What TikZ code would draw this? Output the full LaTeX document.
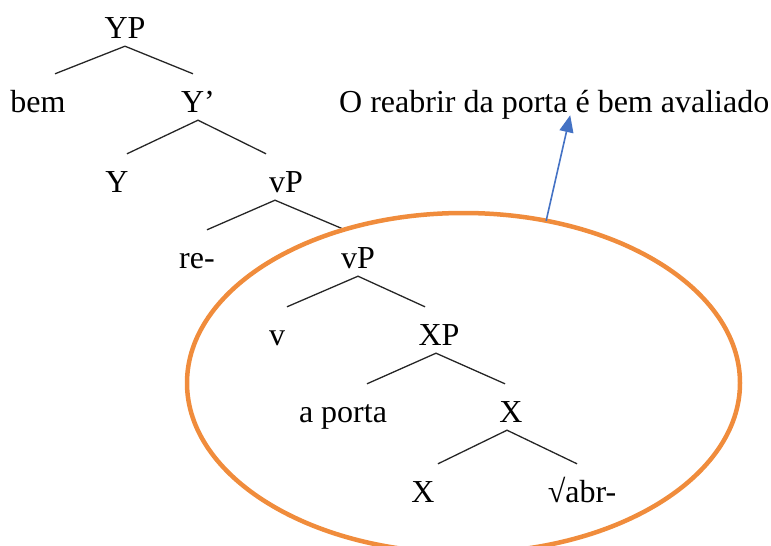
\documentclass[tikz,border=0pt]{standalone}
\usepackage{fontspec}
\setmainfont{Liberation Serif}
\usetikzlibrary{shapes.geometric, arrows.meta}
\definecolor{ringorange}{RGB}{240,140,60}
\definecolor{arrowblue}{RGB}{68,114,196}

\begin{document}
\begin{tikzpicture}[x=1pt, y=-1pt,
    lbl/.style={anchor=base, inner xsep=0pt, inner ysep=8pt, text height=30pt, text depth=0pt, font=\fontsize{32}{38}\selectfont},
    branch/.style={line width=1.3pt, black!85}]
    \useasboundingbox (0, 0) rectangle (771, 546);

    % Labels, row by row
    \node[lbl] (yp) at (125, 38) {YP};
    \node[lbl] (bem) at (38, 112) {bem};
    \node[lbl] (ybar) at (198, 112) {Y’};
    \node[lbl] (y) at (117, 192) {Y};
    \node[lbl] (vp) at (286, 192) {vP};
    \node[lbl] (re) at (197, 268) {re-};
    \node[lbl] (vplow) at (358, 268) {vP};
    \node[lbl] (v) at (277, 345) {v};
    \node[lbl] (xp) at (439, 345) {XP};
    \node[lbl] (porta) at (343, 422) {a porta};
    \node[lbl] (xbar) at (511, 422) {X};
    \node[lbl] (x) at (423, 502) {X};
    \node[lbl] (root) at (582, 502) {√abr-};

    % Branches
    \draw[branch] ([xshift=17pt]bem.north) -- (yp.south) -- ([xshift=-5pt]ybar.north);
    \draw[branch] ([xshift=10pt]y.north) -- (ybar.south) -- ([xshift=-20pt]vp.north);
    \draw[branch] ([xshift=10pt]re.north) -- ([xshift=-11pt]vp.south) -- ([xshift=-13pt]vplow.north);
    \draw[branch] ([xshift=10pt]v.north) -- (vplow.south) -- ([xshift=-14pt]xp.north);
    \draw[branch] ([xshift=24pt]porta.north) -- ([xshift=-3pt]xp.south) -- ([xshift=-6pt]xbar.north);
    \draw[branch] ([xshift=15pt]x.north) -- ([xshift=-4pt]xbar.south) -- ([xshift=-5pt]root.north);

    % Ring and its reading
    \node[draw=ringorange, line width=4.5pt, ellipse, minimum width=553pt, minimum height=340pt,
        inner sep=0pt, outer sep=0pt] (ring) at (463.5, 383) {};
    \node[anchor=base west, inner sep=0pt, text depth=0pt, font=\fontsize{32}{38}\selectfont]
        (claim) at (339, 112) {O reabrir da porta é bem avaliado};
    \draw[arrowblue, line width=1.6pt, -{Triangle[length=17pt, width=14pt]}]
        (ring.63) -- ([xshift=16pt, yshift=-3pt]claim.south);
\end{tikzpicture}
\end{document}
